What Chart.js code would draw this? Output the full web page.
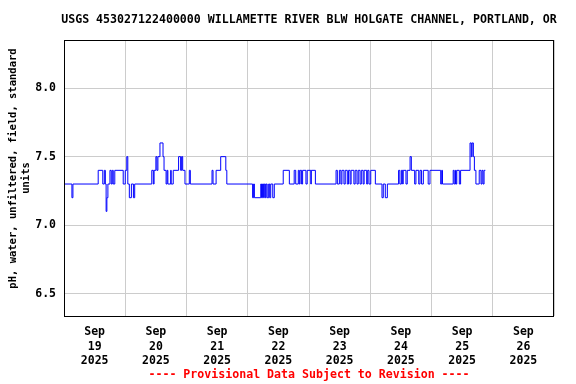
<!DOCTYPE html>
<html>
<head>
<meta charset="utf-8">
<script src="https://cdn.jsdelivr.net/npm/chart.js@4"></script>
<style>
  html, body { margin: 0; padding: 0; background: #fff; }
  #wrap { width: 576px; height: 384px; }
</style>
</head>
<body>
<div id="wrap"><canvas id="chart" width="576" height="384"></canvas></div>
<script>
// Hours since Sep 19 2025 00:00 where the reading changes, and the pH held from there
var hours = [
  0, 3.1, 3.5, 13.4, 15.2, 15.8, 16.2, 16.5, 16.8, 17.2, 18.0, 18.5, 18.9, 19.3, 19.9, 23.2,
  24.0, 24.6, 25.0, 25.6, 26.4, 27.2, 27.7, 34.4, 35.0, 35.3, 36.0, 36.4, 36.8, 37.6, 38.8, 39.2,
  40.0, 40.4, 40.7, 41.8, 42.0, 42.8, 44.9, 45.7, 46.1, 46.5, 47.4, 49.1, 49.5,
  58.0, 58.4, 59.6, 61.4, 63.4, 63.8,
  73.9, 74.3, 74.6, 77.1, 77.4, 77.8, 78.2, 78.5, 78.9, 79.2, 79.6, 80.2, 80.6, 81.0, 81.8, 82.4,
  85.9, 88.3, 90.2, 90.8, 91.8, 92.2, 92.5, 93.1, 93.5, 94.8, 95.3, 96.7, 96.9, 98.5,
  106.6, 107.1, 107.9, 108.5, 108.9, 109.7, 110.2, 111.0, 111.5, 112.1, 112.5, 113.6, 114.1, 114.8,
  115.3, 116.0, 116.5, 117.2, 117.6, 118.6, 119.0, 119.5, 120.2, 122.0, 124.6, 125.1, 125.9, 126.7,
  131.1, 131.6, 132.2, 132.7, 132.9, 134.0, 134.5, 135.6, 136.1, 137.4, 137.9, 139.0, 139.5,
  140.1, 140.8, 142.7, 143.4, 147.6, 148.0, 148.3, 152.5, 152.9, 153.4, 153.6, 153.9, 154.9, 155.4,
  159.1, 159.6, 159.9, 160.4, 160.8, 161.4, 162.7, 163.4, 163.8, 164.2, 164.6, 165.1
];
var phValues = [
  7.3, 7.2, 7.3, 7.4, 7.3, 7.4, 7.3, 7.1, 7.2, 7.3, 7.4, 7.3, 7.4, 7.3, 7.4, 7.3,
  7.4, 7.5, 7.3, 7.2, 7.3, 7.2, 7.3, 7.4, 7.3, 7.4, 7.5, 7.4, 7.5, 7.6, 7.5, 7.4,
  7.3, 7.4, 7.3, 7.4, 7.3, 7.4, 7.5, 7.4, 7.5, 7.4, 7.3, 7.4, 7.3,
  7.4, 7.3, 7.4, 7.5, 7.4, 7.3,
  7.2, 7.3, 7.2, 7.3, 7.2, 7.3, 7.2, 7.3, 7.2, 7.3, 7.2, 7.3, 7.2, 7.3, 7.2, 7.3,
  7.4, 7.3, 7.4, 7.3, 7.4, 7.3, 7.4, 7.3, 7.4, 7.3, 7.4, 7.3, 7.4, 7.3,
  7.4, 7.3, 7.4, 7.3, 7.4, 7.3, 7.4, 7.3, 7.4, 7.3, 7.4, 7.3, 7.4, 7.3,
  7.4, 7.3, 7.4, 7.3, 7.4, 7.3, 7.4, 7.3, 7.4, 7.3, 7.2, 7.3, 7.2, 7.3,
  7.4, 7.3, 7.4, 7.3, 7.4, 7.3, 7.4, 7.5, 7.4, 7.3, 7.4, 7.3, 7.4,
  7.3, 7.4, 7.3, 7.4, 7.3, 7.4, 7.3, 7.4, 7.3, 7.4, 7.3, 7.4, 7.3, 7.4,
  7.6, 7.5, 7.6, 7.5, 7.4, 7.3, 7.4, 7.3, 7.4, 7.3, 7.4, 7.4
];

// Axis labels
var dayLabels = ['19', '20', '21', '22', '23', '24', '25', '26'];
var monthLabel = 'Sep';
var yearLabel = '2025';
var yTicks = [6.5, 7.0, 7.5, 8.0];

var chartTitle = 'USGS 453027122400000 WILLAMETTE RIVER BLW HOLGATE CHANNEL, PORTLAND, OR';
var footerText = '---- Provisional Data Subject to Revision ----';

var points = [];
for (var i = 0; i < hours.length; i++) {
  points.push({ x: hours[i], y: phValues[i] });
}

var mono = "'DejaVu Sans Mono', monospace";

// Frame round the plot, title and footer centred over the plot area
var framePlugin = {
  id: 'frame',
  afterDraw: function (chart) {
    var a = chart.chartArea;
    var c = chart.ctx;
    var mid = (a.left + a.right) / 2;
    c.save();
    c.strokeStyle = '#000';
    c.lineWidth = 1;
    c.strokeRect(Math.round(a.left) + 0.5, Math.round(a.top) + 0.5,
      Math.round(a.right - a.left) - 1, Math.round(a.bottom - a.top));
    c.font = 'bold 11.6px ' + mono;
    c.textAlign = 'center';
    c.textBaseline = 'middle';
    c.fillStyle = '#000';
    c.fillText(chartTitle, mid, 20);
    c.fillStyle = '#ff0000';
    c.fillText(footerText, mid, 375);
    c.restore();
  }
};

new Chart(document.getElementById('chart'), {
  type: 'line',
  data: {
    datasets: [{
      data: points,
      borderColor: '#0000ff',
      borderWidth: 1,
      pointRadius: 0,
      stepped: true,
      fill: false
    }]
  },
  options: {
    responsive: false,
    animation: false,
    layout: { padding: { left: 0, right: 22, top: 40, bottom: 18 } },
    plugins: {
      legend: { display: false },
      tooltip: { enabled: false }
    },
    scales: {
      x: {
        type: 'linear',
        min: 0,
        max: 192,
        afterBuildTicks: function (scale) {
          var t = [];
          for (var d = 0; d <= dayLabels.length; d++) {
            t.push({ value: d * 24 });
            if (d < dayLabels.length) t.push({ value: d * 24 + 12 });
          }
          scale.ticks = t;
        },
        afterFit: function (scale) { scale.height = 50; },
        grid: {
          color: function (ctx) {
            return ctx.tick && ctx.tick.value % 24 === 0 ? '#cccccc' : 'rgba(0,0,0,0)';
          },
          drawTicks: false
        },
        border: { display: false },
        ticks: {
          autoSkip: false,
          maxRotation: 0,
          padding: 9,
          color: '#000',
          font: { family: mono, size: 11.5, weight: 'bold', lineHeight: 1.25 },
          callback: function (v) {
            if (v % 24 !== 12) return '';
            return [monthLabel, dayLabels[(v - 12) / 24], yearLabel];
          }
        }
      },
      y: {
        min: 6.336,
        max: 8.352,
        afterBuildTicks: function (scale) {
          scale.ticks = yTicks.map(function (v) { return { value: v }; });
        },
        afterFit: function (scale) { scale.width = 64; },
        grid: { color: '#cccccc', drawTicks: false },
        border: { display: false },
        ticks: {
          padding: 8,
          color: '#000',
          font: { family: mono, size: 11.5, weight: 'bold' },
          callback: function (v) { return v.toFixed(1); }
        },
        title: {
          display: true,
          // leading spaces lift the first line a little, as in the original
          text: ['   pH, water, unfiltered, field, standard', 'units'],
          color: '#000',
          font: { family: mono, size: 10.5, weight: 'bold', lineHeight: 1.2 },
          padding: { top: 7, bottom: 0 }
        }
      }
    }
  },
  plugins: [framePlugin]
});
</script>
</body>
</html>
